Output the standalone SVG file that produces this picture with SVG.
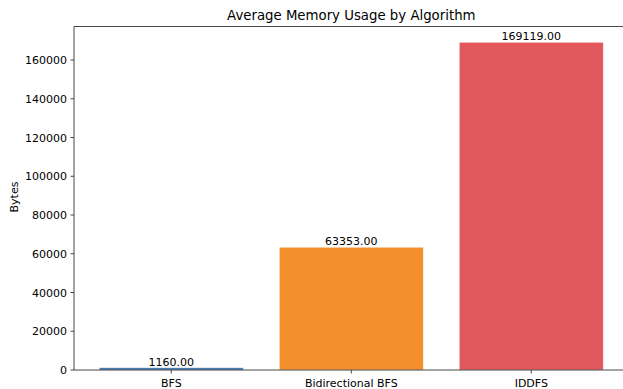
<svg xmlns="http://www.w3.org/2000/svg" width="623" height="389" viewBox="0 0 623 389">
<style>
text{font-family:"DejaVu Sans","Liberation Sans",sans-serif;fill:#000}
.tk{font-size:11px}
.yt{text-anchor:end}
.xt{text-anchor:middle}
.val{font-size:11px;text-anchor:middle}
.spine{stroke:#333;stroke-width:0.9;fill:none}
.tick{stroke:#333;stroke-width:0.9}
.bar{stroke:#fff;stroke-width:0.8;stroke-opacity:0.6}
</style>
<rect width="623" height="389" fill="#fff"/>
<text x="351.3" y="20" font-size="13.3" text-anchor="middle">Average Memory Usage by Algorithm</text>
<g id="bars">
<g id="bar-bfs"><rect class="bar" x="99.3" y="367.75" width="144" height="2.25" fill="#3571a8"/><text class="val" x="171.3" y="366">1160.00</text></g>
<g id="bar-bidir"><rect class="bar" x="279.3" y="247.25" width="144" height="122.75" fill="#f4902c"/><text class="val" x="351.3" y="245">63353.00</text></g>
<g id="bar-iddfs"><rect class="bar" x="459.3" y="42.3" width="144" height="327.7" fill="#e1575b"/><text class="val" x="531.3" y="40">169119.00</text></g>
</g>
<g id="axes">
<path class="spine" d="M623 26.5H74V370H623"/>
<g class="tick">
<line x1="70.5" x2="74" y1="370" y2="370"/>
<line x1="70.5" x2="74" y1="331.25" y2="331.25"/>
<line x1="70.5" x2="74" y1="292.5" y2="292.5"/>
<line x1="70.5" x2="74" y1="253.75" y2="253.75"/>
<line x1="70.5" x2="74" y1="215" y2="215"/>
<line x1="70.5" x2="74" y1="176.25" y2="176.25"/>
<line x1="70.5" x2="74" y1="137.5" y2="137.5"/>
<line x1="70.5" x2="74" y1="98.75" y2="98.75"/>
<line x1="70.5" x2="74" y1="60" y2="60"/>
<line x1="171.3" x2="171.3" y1="370" y2="373.5"/>
<line x1="351.3" x2="351.3" y1="370" y2="373.5"/>
<line x1="531.3" x2="531.3" y1="370" y2="373.5"/>
</g>
<g class="tk yt">
<text x="67" y="374">0</text>
<text x="67" y="335.25">20000</text>
<text x="67" y="296.5">40000</text>
<text x="67" y="257.75">60000</text>
<text x="67" y="219">80000</text>
<text x="67" y="180.25">100000</text>
<text x="67" y="141.5">120000</text>
<text x="67" y="102.75">140000</text>
<text x="67" y="64">160000</text>
</g>
<g class="tk xt">
<text x="171.3" y="387">BFS</text>
<text x="351.3" y="387">Bidirectional BFS</text>
<text x="531.3" y="387">IDDFS</text>
</g>
<text class="tk" x="0" y="0" text-anchor="middle" transform="translate(18 197) rotate(-90)">Bytes</text>
</g>
</svg>
